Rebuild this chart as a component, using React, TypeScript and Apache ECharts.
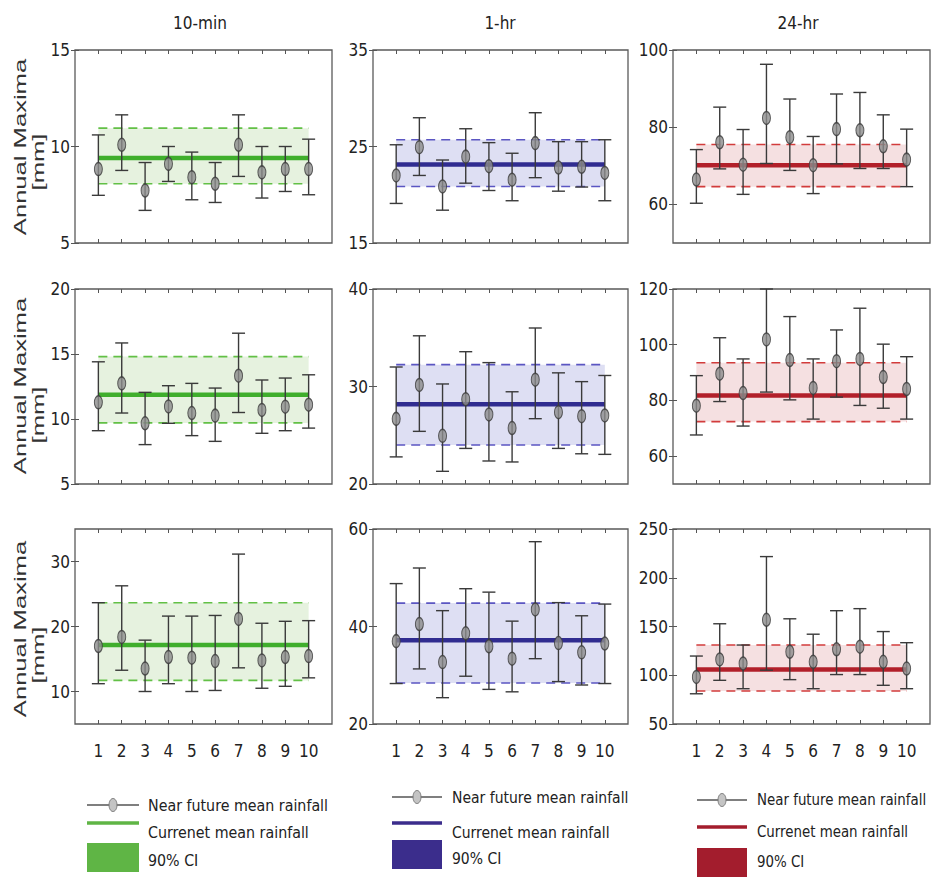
import React, { useEffect, useRef } from "react";
import * as echarts from "echarts";

// ---------- data ----------
const categories = [1, 2, 3, 4, 5, 6, 7, 8, 9, 10];
const durations = ["10-min", "1-hr", "24-hr"];
const legendLabels = ["Near future mean rainfall", "Currenet mean rainfall", "90% CI"];
const yAxisName = "Annual Maxima";
const yAxisUnit = "[mm]";

// Row 1
const near10minA = [8.83, 10.09, 7.72, 9.1, 8.41, 8.07, 10.09, 8.66, 8.83, 8.83];
const low10minA = [7.47, 8.76, 6.69, 8.19, 7.24, 7.1, 8.45, 7.33, 7.67, 7.5];
const high10minA = [10.6, 11.64, 9.17, 10.0, 9.71, 9.17, 11.64, 10.0, 10.0, 10.38];
const current10minA = [9.4, 8.07, 10.95]; // mean, CI low, CI high

const near1hrA = [22.0, 24.93, 20.86, 23.95, 22.96, 21.56, 25.35, 22.82, 22.9, 22.26];
const low1hrA = [19.1, 22.0, 18.4, 21.2, 20.44, 19.38, 21.77, 20.37, 20.8, 19.38];
const high1hrA = [25.18, 27.98, 23.6, 26.84, 25.4, 24.3, 28.5, 25.5, 25.5, 25.7];
const current1hrA = [23.14, 20.86, 25.7];

const near24hrA = [66.45, 76.1, 70.3, 82.4, 77.4, 70.15, 79.5, 79.2, 75.05, 71.6];
const low24hrA = [60.3, 69.2, 62.6, 70.6, 68.8, 62.8, 70.5, 69.3, 69.3, 64.6];
const high24hrA = [74.2, 85.2, 79.4, 96.3, 87.3, 77.6, 88.6, 89.0, 83.2, 79.5];
const current24hrA = [70.15, 64.6, 75.5];

// Row 2
const near10minB = [11.28, 12.74, 9.67, 10.97, 10.46, 10.26, 13.33, 10.7, 10.95, 11.1];
const low10minB = [9.1, 10.46, 8.03, 9.67, 8.72, 8.28, 10.5, 8.9, 9.1, 9.3];
const high10minB = [14.4, 15.85, 12.05, 12.56, 12.74, 12.38, 16.6, 13.0, 13.15, 13.4];
const current10minB = [11.87, 9.7, 14.8];

const near1hrB = [26.68, 30.16, 24.94, 28.7, 27.13, 25.74, 30.7, 27.37, 26.96, 27.03];
const low1hrB = [22.78, 25.4, 21.3, 23.65, 22.36, 22.26, 26.7, 23.65, 23.1, 23.04];
const high1hrB = [32.0, 35.2, 30.26, 33.57, 32.45, 29.46, 36.0, 31.4, 30.5, 31.13];
const current1hrB = [28.17, 24.0, 32.24];

const near24hrB = [78.1, 89.6, 82.65, 101.9, 94.5, 84.5, 94.1, 94.9, 88.4, 84.1];
const low24hrB = [67.6, 79.6, 70.8, 83.0, 80.2, 73.3, 81.2, 78.2, 77.2, 73.3];
const high24hrB = [88.9, 102.5, 94.9, 120, 110.1, 94.9, 105.3, 113.1, 100.2, 95.7];
const current24hrB = [81.8, 72.4, 93.5];

// Row 3
const near10minC = [17.0, 18.4, 13.53, 15.3, 15.2, 14.68, 21.17, 14.78, 15.3, 15.45];
const low10minC = [11.2, 13.27, 10.0, 11.2, 10.0, 10.16, 13.64, 10.5, 10.8, 12.1];
const high10minC = [23.66, 26.26, 17.9, 21.6, 21.6, 21.7, 31.14, 20.5, 20.8, 20.9];
const current10minC = [17.17, 11.71, 23.66];

const near1hrC = [37.0, 40.5, 32.7, 38.6, 35.95, 33.4, 43.5, 36.6, 34.7, 36.5];
const low1hrC = [28.3, 31.3, 25.4, 29.8, 27.1, 26.6, 33.4, 28.7, 28.0, 28.3];
const high1hrC = [48.8, 52.0, 43.25, 47.75, 47.05, 41.1, 57.4, 44.9, 42.2, 44.6];
const current1hrC = [37.16, 28.4, 44.8];

const near24hrC = [98.3, 116.2, 112.1, 156.9, 124.1, 113.8, 126.6, 129.3, 113.8, 106.9];
const low24hrC = [81.0, 94.8, 86.2, 105.2, 95.5, 86.2, 100.7, 100.7, 89.7, 86.2];
const high24hrC = [119.7, 152.8, 131.0, 221.7, 157.9, 142.1, 166.2, 168.3, 144.8, 133.4];
const current24hrC = [105.9, 83.8, 131.0];

// y axis ranges and tick labels
const yMins = [5, 15, 50, 5, 20, 50, 5, 20, 50];
const yMaxs = [15, 35, 100, 20, 40, 120, 35, 60, 250];
const yTicks = [
  [5, 10, 15],
  [15, 25, 35],
  [60, 80, 100],
  [5, 10, 15, 20],
  [20, 30, 40],
  [60, 80, 100, 120],
  [10, 20, 30],
  [20, 40, 60],
  [50, 100, 150, 200, 250],
];

const panels = [
  [near10minA, low10minA, high10minA, current10minA],
  [near1hrA, low1hrA, high1hrA, current1hrA],
  [near24hrA, low24hrA, high24hrA, current24hrA],
  [near10minB, low10minB, high10minB, current10minB],
  [near1hrB, low1hrB, high1hrB, current1hrB],
  [near24hrB, low24hrB, high24hrB, current24hrB],
  [near10minC, low10minC, high10minC, current10minC],
  [near1hrC, low1hrC, high1hrC, current1hrC],
  [near24hrC, low24hrC, high24hrC, current24hrC],
];

// ---------- styles / layout ----------
const FONT = "'Liberation Sans Narrow', 'DejaVu Sans Condensed', 'Arial Narrow', sans-serif";
const colLeft = [75, 373, 673];
const colWidth = [257, 255, 257];
const rowTop = [50, 289, 529];
const rowHeight = [193, 195, 195];
const meanColor = ["#3fae2c", "#302c90", "#b2202a"];
const dashColor = ["#62c046", "#5b56c2", "#d23c3c"];
const bandColor = ["#e6f2df", "#dedff3", "#f5e0e1"];
const legendColor = ["#5fb545", "#3b2d8c", "#a31d2d"];
const ELLIPSE = "path://M0,-1A1,1 0 1,1 0,1A1,1 0 1,1 0,-1Z";

export default function App() {
  const ref = useRef<HTMLDivElement>(null);

  useEffect(() => {
    const chart = echarts.init(ref.current!, null, { renderer: "svg" });
    const grid: any[] = [];
    const xAxis: any[] = [];
    const yAxis: any[] = [];
    const series: any[] = [];
    const graphic: any[] = [];

    panels.forEach((p, i) => {
      const row = Math.floor(i / 3);
      const col = i % 3;
      const [near, low, high, cur] = p as number[][];
      grid.push({
        left: colLeft[col],
        top: rowTop[row],
        width: colWidth[col],
        height: rowHeight[row],
        show: true,
        borderColor: "#5a5a5a",
        borderWidth: 1.3,
        backgroundColor: "transparent",
        containLabel: false,
        outerBoundsMode: "none",
      });
      const xBase = {
        type: "value",
        gridIndex: i,
        min: 0,
        max: 11,
        axisLine: { show: false },
        splitLine: { show: false },
        axisTick: { inside: true, length: 4, customValues: categories, lineStyle: { color: "#555" } },
      };
      xAxis.push({
        ...xBase,
        position: "bottom",
        axisLabel: {
          show: row === 2,
          customValues: categories,
          margin: 18,
          fontFamily: FONT,
          fontSize: 17,
          color: "#222",
        },
      });
      xAxis.push({ ...xBase, position: "top", axisLabel: { show: false } });
      const yBase = {
        type: "value",
        gridIndex: i,
        min: yMins[i],
        max: yMaxs[i],
        axisLine: { show: false },
        splitLine: { show: false },
        axisTick: { inside: true, length: 4, customValues: yTicks[i], lineStyle: { color: "#555" } },
      };
      yAxis.push({
        ...yBase,
        position: "left",
        axisLabel: {
          show: true,
          customValues: yTicks[i],
          margin: 5,
          fontFamily: FONT,
          fontSize: 17,
          color: "#222",
        },
      });
      yAxis.push({ ...yBase, position: "right", axisLabel: { show: false } });

      const xi = i * 2;
      const yi = i * 2;
      // CI band
      series.push({
        type: "custom",
        xAxisIndex: xi,
        yAxisIndex: yi,
        silent: true,
        z: 1,
        data: [[categories[0], cur[1], categories[categories.length - 1], cur[2]]],
        encode: { x: [0, 2], y: [1, 3] },
        renderItem: (_params: any, api: any) => {
          const a = api.coord([api.value(0), api.value(3)]);
          const b = api.coord([api.value(2), api.value(1)]);
          return {
            type: "rect",
            shape: { x: a[0], y: a[1], width: b[0] - a[0], height: b[1] - a[1] },
            style: { fill: bandColor[col] },
          };
        },
      });
      // CI dashed bounds
      [cur[1], cur[2]].forEach((v) => {
        series.push({
          type: "line",
          xAxisIndex: xi,
          yAxisIndex: yi,
          silent: true,
          z: 2,
          symbol: "none",
          data: [
            [categories[0], v],
            [categories[categories.length - 1], v],
          ],
          lineStyle: { color: dashColor[col], width: 1.6, type: [9, 6] },
        });
      });
      // current mean line
      series.push({
        type: "line",
        xAxisIndex: xi,
        yAxisIndex: yi,
        silent: true,
        z: 3,
        symbol: "none",
        data: [
          [categories[0], cur[0]],
          [categories[categories.length - 1], cur[0]],
        ],
        lineStyle: { color: meanColor[col], width: 4.5 },
      });
      // error bars
      series.push({
        type: "custom",
        xAxisIndex: xi,
        yAxisIndex: yi,
        silent: true,
        z: 4,
        data: categories.map((c, k) => [c, low[k], high[k]]),
        encode: { x: 0, y: [1, 2] },
        renderItem: (_params: any, api: any) => {
          const top = api.coord([api.value(0), api.value(2)]);
          const bot = api.coord([api.value(0), api.value(1)]);
          const hw = 6.5;
          const st = { stroke: "#3a3a3a", lineWidth: 1.4 };
          return {
            type: "group",
            children: [
              { type: "line", shape: { x1: top[0], y1: top[1], x2: bot[0], y2: bot[1] }, style: st },
              { type: "line", shape: { x1: top[0] - hw, y1: top[1], x2: top[0] + hw, y2: top[1] }, style: st },
              { type: "line", shape: { x1: bot[0] - hw, y1: bot[1], x2: bot[0] + hw, y2: bot[1] }, style: st },
            ],
          };
        },
      });
      // near-future mean points
      series.push({
        type: "scatter",
        xAxisIndex: xi,
        yAxisIndex: yi,
        z: 5,
        symbol: ELLIPSE,
        symbolSize: [8, 13],
        data: categories.map((c, k) => [c, near[k]]),
        itemStyle: { color: "#8c8c8c", borderColor: "#3a3a3a", borderWidth: 1.2 },
      });
    });

    // column titles
    const titleX = [200, 500, 798];
    durations.forEach((d, c) => {
      graphic.push({
        type: "text",
        x: titleX[c],
        y: 23,
        style: {
          text: d,
          font: `17px ${FONT}`,
          fill: "#222",
          align: "center",
          verticalAlign: "middle",
          textAlign: "center",
          textVerticalAlign: "middle",
        },
      });
    });

    // y axis names (first column only)
    const nameCenter = [147, 386, 629];
    const unitCenter = [162, 415, 655];
    [0, 1, 2].forEach((r) => {
      graphic.push({
        type: "text",
        x: 21,
        y: nameCenter[r],
        rotation: Math.PI / 2,
        scaleX: 1.6,
        style: {
          text: yAxisName,
          font: `16px 'Liberation Sans', Arial, sans-serif`,
          fill: "#333",
          align: "center",
          verticalAlign: "middle",
          textAlign: "center",
          textVerticalAlign: "middle",
        },
      });
      graphic.push({
        type: "text",
        x: 39,
        y: unitCenter[r],
        rotation: Math.PI / 2,
        scaleX: 1.6,
        style: {
          text: yAxisUnit,
          font: `16px 'Liberation Sans', Arial, sans-serif`,
          fill: "#333",
          align: "center",
          verticalAlign: "middle",
          textAlign: "center",
          textVerticalAlign: "middle",
        },
      });
    });

    // legends
    const legX = [87, 392, 697];
    const legW = [52, 50, 50];
    const legTextX = [148, 452, 757];
    const legTextScale = [0.99, 0.97, 0.93];
    const legY1 = [805, 797, 800];
    const legY2 = [823, 823, 827];
    const legRectTop = [843, 840, 848];
    const legText2Y = [832, 832, 832];
    const legText3Y = [860, 858, 862];
    [0, 1, 2].forEach((c) => {
      const tstyle = (text: string, y: number) => ({
        type: "text",
        x: legTextX[c],
        y,
        scaleX: legTextScale[c],
        style: {
          text,
          font: `16px ${FONT}`,
          fill: "#222",
          align: "left",
          verticalAlign: "middle",
          textAlign: "left",
          textVerticalAlign: "middle",
        },
      });
      graphic.push({
        type: "line",
        shape: { x1: legX[c], y1: legY1[c], x2: legX[c] + legW[c], y2: legY1[c] },
        style: { stroke: "#555", lineWidth: 1.3 },
      });
      graphic.push({
        type: "ellipse",
        shape: { cx: legX[c] + legW[c] / 2, cy: legY1[c], rx: 4, ry: 6.5 },
        style: { fill: "#c4c4c4", stroke: "#777", lineWidth: 1 },
      });
      graphic.push(tstyle(legendLabels[0], legY1[c]));
      graphic.push({
        type: "line",
        shape: { x1: legX[c], y1: legY2[c], x2: legX[c] + legW[c], y2: legY2[c] },
        style: { stroke: legendColor[c], lineWidth: 3.5 },
      });
      graphic.push(tstyle(legendLabels[1], legText2Y[c]));
      graphic.push({
        type: "rect",
        shape: { x: legX[c], y: legRectTop[c], width: legW[c], height: 29 },
        style: { fill: legendColor[c] },
      });
      graphic.push(tstyle(legendLabels[2], legText3Y[c]));
    });

    chart.setOption({
      animation: false,
      backgroundColor: "#ffffff",
      grid,
      xAxis,
      yAxis,
      series,
      graphic,
    });
    return () => chart.dispose();
  }, []);

  return (
    <div
      ref={ref}
      style={{ position: "absolute", left: 0, top: 0, width: 936, height: 879 }}
    />
  );
}
